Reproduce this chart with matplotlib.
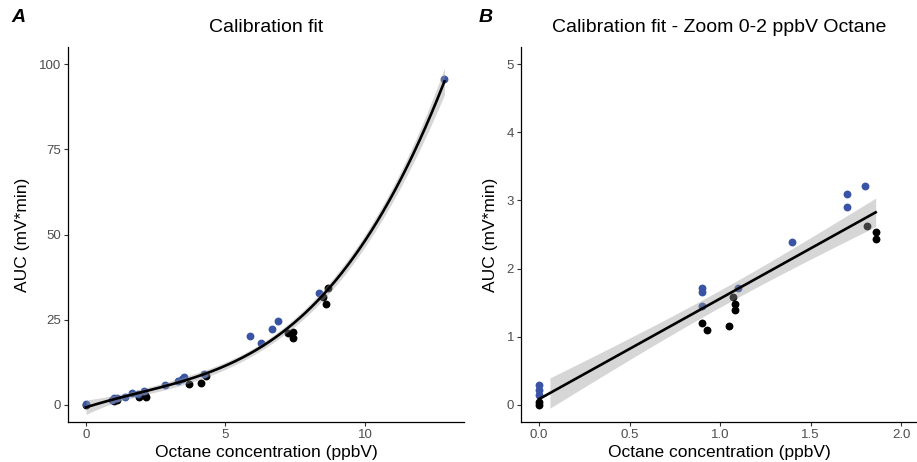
import numpy as np
import matplotlib
matplotlib.use("Agg")
import matplotlib.pyplot as plt

plt.rcParams['font.family'] = ['Liberation Sans', 'DejaVu Sans']

# ---------------- data: panel A (full range) ----------------
a_blue_x = [0.0, 0.95, 1.0, 1.12, 1.39, 1.66, 1.85, 2.07, 2.84, 3.31, 3.45, 3.51,
            4.22, 5.89, 6.28, 6.68, 6.89, 8.36, 12.85]
a_blue_y = [0.2, 1.6, 2.0, 2.1, 2.4, 3.4, 3.3, 4.1, 5.9, 7.0, 7.6, 8.3,
            9.1, 20.2, 18.3, 22.2, 24.6, 32.8, 95.5]
a_black_x = [0.0, 1.0, 1.1, 1.89, 2.1, 2.16, 3.70, 4.14, 4.31, 7.25, 7.41, 7.41,
             8.51, 8.60, 8.66]
a_black_y = [0.1, 1.3, 1.5, 2.2, 3.0, 2.4, 6.2, 6.4, 8.5, 21.0, 21.5, 19.6,
             31.6, 29.5, 34.4]

# ---------------- data: panel B (zoom 0-2 ppbV) ----------------
b_blue_x = [0.0, 0.0, 0.0, 0.9, 0.9, 0.9, 1.10, 1.40, 1.70, 1.70, 1.80]
b_blue_y = [0.29, 0.22, 0.15, 1.71, 1.65, 1.45, 1.72, 2.39, 3.10, 2.91, 3.21]
b_black_x = [0.0, 0.0, 0.9, 0.93, 1.05, 1.07, 1.08, 1.08, 1.81, 1.86, 1.86]
b_black_y = [0.05, 0.0, 1.20, 1.10, 1.16, 1.59, 1.48, 1.39, 2.62, 2.53, 2.43]

a_xticks = [0, 5, 10]
a_yticks = [0, 25, 50, 75, 100]
b_xticks = [0.0, 0.5, 1.0, 1.5, 2.0]
b_yticks = [0, 1, 2, 3, 4, 5]

BLUE = '#3A54A5'
TICKCOL = '#4D4D4D'
T_CRIT = 2.04


def fit_band(x, y, deg, xs):
    x = np.asarray(x, float)
    y = np.asarray(y, float)
    X = np.vander(x, deg + 1)
    coef, *_ = np.linalg.lstsq(X, y, rcond=None)
    resid = y - X @ coef
    dof = len(x) - (deg + 1)
    s2 = resid @ resid / dof
    cov = s2 * np.linalg.inv(X.T @ X)
    Xs = np.vander(xs, deg + 1)
    fit = Xs @ coef
    se = np.sqrt(np.einsum('ij,jk,ik->i', Xs, cov, Xs))
    return fit, fit - T_CRIT * se, fit + T_CRIT * se


W, H = 917, 462
fig = plt.figure(figsize=(W / 100, H / 100), dpi=100)

bot = (H - 422) / H
hgt = 375 / H
axA = fig.add_axes([68 / W, bot, 396 / W, hgt])
axB = fig.add_axes([521 / W, bot, 396 / W, hgt])

MS = 32

# Panel A
ax_x = np.array(a_blue_x + a_black_x)
ax_y = np.array(a_blue_y + a_black_y)
axA.scatter(a_black_x, a_black_y, s=MS, color='black', zorder=2, linewidths=0)
axA.scatter(a_blue_x, a_blue_y, s=MS, color=BLUE, zorder=2, linewidths=0)
xsA = np.linspace(ax_x.min(), ax_x.max(), 300)
fA, loA, hiA = fit_band(ax_x, ax_y, 3, xsA)
axA.fill_between(xsA, loA, hiA, color='#999999', alpha=0.4, linewidth=0, zorder=3)
axA.plot(xsA, fA, color='black', lw=1.9, zorder=4)
axA.set_xlim(-0.645, 13.55)
axA.set_ylim(-5, 105)
axA.set_xticks(a_xticks)
axA.set_yticks(a_yticks)

# Panel B
bx = np.array(b_blue_x + b_black_x)
by = np.array(b_blue_y + b_black_y)
axB.scatter(b_black_x, b_black_y, s=MS, color='black', zorder=2, linewidths=0)
axB.scatter(b_blue_x, b_blue_y, s=MS, color=BLUE, zorder=2, linewidths=0)
xsB = np.linspace(0.06, bx.max(), 200)
fB, loB, hiB = fit_band(bx, by, 1, xsB)
axB.fill_between(xsB, loB, hiB, color='#999999', alpha=0.4, linewidth=0, zorder=3)
xlB = np.linspace(bx.min(), bx.max(), 200)
flB, _, _ = fit_band(bx, by, 1, xlB)
axB.plot(xlB, flB, color='black', lw=1.9, zorder=4)
axB.set_xlim(-0.1, (917 - 539) / 181)
axB.set_ylim(-0.25, 5.25)
axB.set_xticks(b_xticks)
axB.set_xticklabels([f'{v:.1f}' for v in b_xticks])
axB.set_yticks(b_yticks)

for ax, ylx, title in [(axA, -0.116, 'Calibration fit'),
                       (axB, -0.078, 'Calibration fit - Zoom 0-2 ppbV Octane')]:
    for sp in ['top', 'right']:
        ax.spines[sp].set_visible(False)
    for sp in ['left', 'bottom']:
        ax.spines[sp].set_linewidth(0.9)
        ax.spines[sp].set_color('black')
    ax.tick_params(length=3, width=0.8, color='#333333', labelcolor=TICKCOL,
                   labelsize=9.5, pad=2)
    ax.set_xlabel('Octane concentration (ppbV)', fontsize=12.5)
    ax.set_ylabel('AUC (mV*min)', fontsize=12.5)
    ax.xaxis.set_label_coords(0.5, -0.08)
    ax.yaxis.set_label_coords(ylx, 0.5)
    ax.xaxis.label.set_va('center')
    ax.yaxis.label.set_va('center')
    ax.text(0.5, 1.051, title, transform=ax.transAxes, ha='center', va='center',
            fontsize=14)

fig.text(18 / W, 1 - 18 / H, 'A', fontsize=14, fontweight='bold', fontstyle='italic',
         ha='center', va='center')
fig.text(486 / W, 1 - 18 / H, 'B', fontsize=14, fontweight='bold', fontstyle='italic',
         ha='center', va='center')

fig.savefig('out.png', dpi=100)
